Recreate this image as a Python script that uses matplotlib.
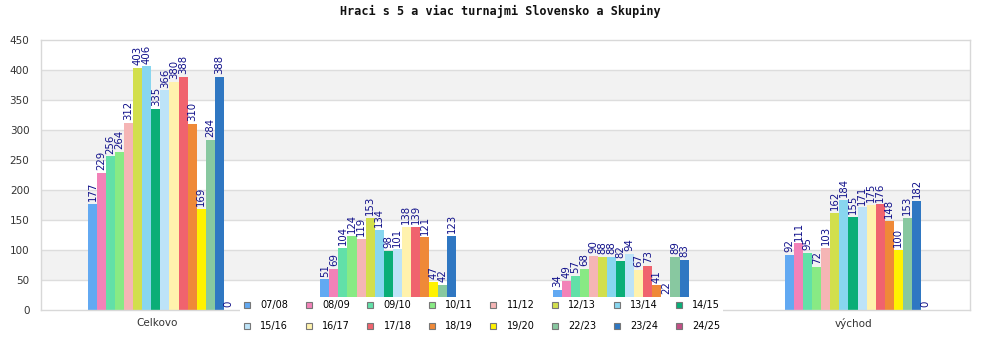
import numpy as np
import matplotlib
matplotlib.use('Agg')
import matplotlib.pyplot as plt
from matplotlib.lines import Line2D

# Players with 5+ tournaments per season, overall and by region
groups = ['Celkovo', 'západ', 'stred', 'východ']
seasons = ['07/08', '08/09', '09/10', '10/11', '11/12', '12/13', '13/14', '14/15',
           '15/16', '16/17', '17/18', '18/19', '19/20', '22/23', '23/24', '24/25']

celkovo = [177, 229, 256, 264, 312, 403, 406, 335, 366, 380, 388, 310, 169, 284, 388, 0]
zapad = [51, 69, 104, 124, 119, 153, 134, 98, 101, 138, 139, 121, 47, 42, 123, 0]
stred = [34, 49, 57, 68, 90, 88, 88, 82, 94, 67, 73, 41, 22, 89, 83, 0]
vychod = [92, 111, 95, 72, 103, 162, 184, 155, 171, 175, 176, 148, 100, 153, 182, 0]

colors = ['#62a9f2', '#f282b8', '#62e0a8', '#88ea84', '#f5b5b5', '#d2df4c', '#88d6ef', '#0aae77',
          '#bde3f8', '#fff2ad', '#f0636e', '#ef8938', '#fff200', '#88c8a0', '#2f77c2', '#c24f85']

data = np.array([celkovo, zapad, stred, vychod])  # rows: groups, cols: seasons

fig = plt.figure(figsize=(10, 3.5), dpi=100)
ax = fig.add_axes([0.0405, 0.1143, 0.9295, 0.7714])

# alternating background bands and grid lines
for lo in range(50, 450, 100):
    ax.axhspan(lo, lo + 50, color='#f2f2f2', zorder=0, lw=0)
for y in range(50, 450, 50):
    ax.axhline(y, color='#dddddd', lw=1, zorder=1)

x = np.arange(len(groups))
width = 0.039
start = -0.296
for i, s in enumerate(seasons):
    pos = x + start + width * (i + 0.5)
    vals = data[:, i]
    ax.bar(pos, vals, width=width, color=colors[i], zorder=2, lw=0)
    for px, v in zip(pos, vals):
        ax.annotate(str(v), (px, v), xytext=(0, 2), textcoords='offset points',
                    rotation=90, ha='center', va='bottom', fontsize=7.3,
                    color='#10108a', zorder=3)

ax.set_xlim(-0.5, 3.5)
ax.set_ylim(0, 450)
ax.set_yticks(range(0, 451, 50))
ax.set_xticks(x)
ax.set_xticklabels(groups)
ax.tick_params(length=0, labelsize=7.5, labelcolor='#333333')
ax.tick_params(axis='x', pad=6)
ax.tick_params(axis='y', pad=8)
for sp in ax.spines.values():
    sp.set_color('#d8d8d8')
    sp.set_linewidth(1)

fig.suptitle('Hraci s 5 a viac turnajmi Slovensko a Skupiny', y=0.985,
             fontsize=8.5, fontweight='bold', family='DejaVu Sans Mono', color='#111111')

handles = [Line2D([], [], ls='none', marker='s', markersize=5.0, markerfacecolor=c,
                  markeredgecolor='#777777', markeredgewidth=0.8) for c in colors]
# legend fills column by column, so interleave to get seasons across rows
ncol = 8
order = [r * ncol + c for c in range(ncol) for r in range(2)]
leg = fig.legend([handles[k] for k in order], [seasons[k] for k in order],
                 loc='upper left', bbox_to_anchor=(0.24, 0.152),
                 ncol=ncol, fontsize=7, frameon=True, fancybox=False, framealpha=1,
                 facecolor='white', edgecolor='white', handlelength=0.75,
                 handletextpad=1.0, columnspacing=1.72, labelspacing=1.15,
                 borderpad=0.35, borderaxespad=0)
leg.get_frame().set_linewidth(0)

fig.savefig('out.png', dpi=100)
